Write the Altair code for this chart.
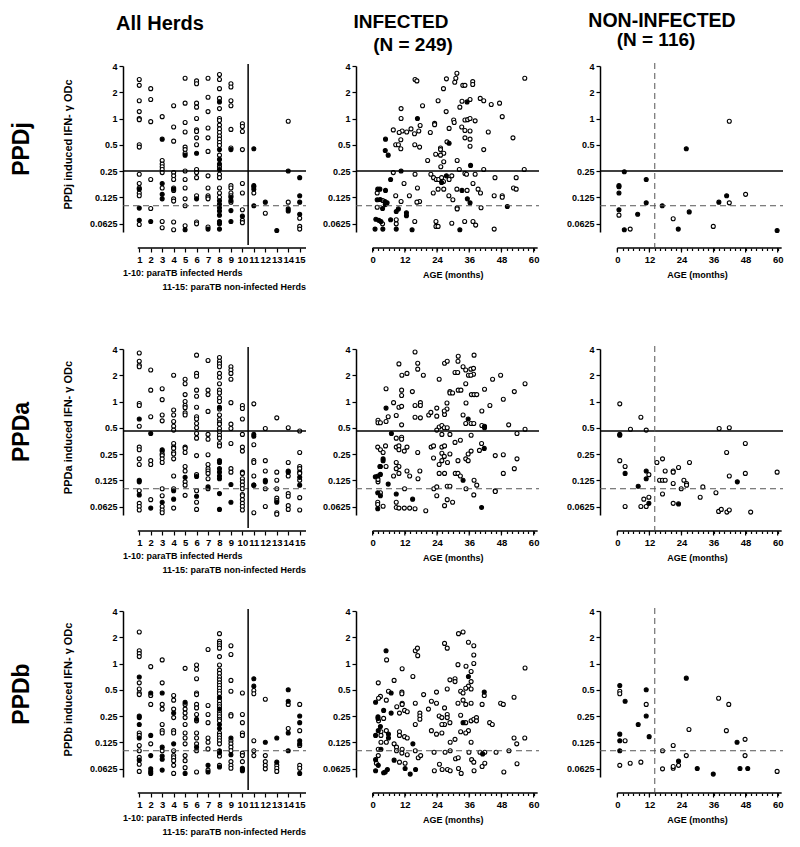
import altair as alt
import pandas as pd

FONT = "Liberation Sans"
W, H = 183, 166
GAP_COLS = [50, 61]
GAP_ROWS = [117, 96]
Y_DOMAIN = [0.05, 4]
Y_TICKS = [0.0625, 0.125, 0.25, 0.5, 1, 2, 4]
HERD_TICKS = list(range(1, 16))
HERD_DOMAIN = [-0.42, 15.55]
HERD_AXIS_LINE = [0.87, 15.55]
HERD_SPLIT = 10.5
AGE_TICKS = list(range(0, 61, 2))
AGE_MAJOR = [0, 12, 24, 36, 48, 60]
AGE_DOMAINS = [[-6.2, 62.0], [-6.5, 62.0]]
AGE_AXIS_LINE = [0, 61.5]
AGE_SPLIT = 14
ANTIGENS = ["PPDj", "PPDa", "PPDb"]
SOLID_CUT = [0.25, 0.46, None]
DASH_CUT = [0.1, 0.1, 0.1]

# ---------------- PPDj ----------------
PPDJ_HERD_OPEN = {
    1: [2.8, 2.4, 1.6, 1.2, 1.0, 0.97, 0.5, 0.47, 0.23, 0.18, 0.16, 0.14, 0.13, 0.061],
    2: [2.2, 1.65, 0.92, 0.2, 0.093],
    3: [1.05, 0.33, 0.3, 0.28, 0.26, 0.24, 0.16, 0.066, 0.056],
    4: [1.4, 0.8, 0.55, 0.24, 0.22, 0.2, 0.16, 0.15, 0.12, 0.113, 0.065, 0.053],
    5: [2.9, 1.5, 0.9, 0.7, 0.47, 0.44, 0.4, 0.25, 0.2, 0.16, 0.12, 0.1, 0.059],
    6: [2.7, 2.5, 1.5, 1.35, 1.0, 0.74, 0.71, 0.6, 0.5, 0.26, 0.24, 0.21, 0.13, 0.065, 0.062],
    7: [2.9, 1.75, 1.2, 0.78, 0.6, 0.42, 0.22, 0.16, 0.13, 0.125, 0.12, 0.057],
    8: [3.2, 2.8, 2.2, 1.7, 1.3, 1.0, 0.95, 0.84, 0.76, 0.69, 0.63, 0.58, 0.53, 0.49, 0.38,
        0.28, 0.23, 0.21, 0.16, 0.14, 0.125],
    9: [2.5, 2.3, 1.6, 1.4, 0.75, 0.46, 0.17, 0.16, 0.14, 0.13, 0.11],
    10: [0.87, 0.81, 0.71, 0.44, 0.18, 0.14, 0.09, 0.068, 0.064],
    11: [0.14],
    12: [0.082],
    14: [0.93, 0.11],
    15: [0.072, 0.058, 0.054],
}
PPDJ_HERD_FILL = {
    1: [0.155, 0.094, 0.068],
    2: [0.066],
    3: [0.58, 0.18, 0.135, 0.12],
    4: [0.155],
    5: [0.38, 0.053],
    6: [0.4, 0.12],
    7: [0.054],
    8: [1.55, 0.44, 0.34, 0.3, 0.26, 0.114, 0.104, 0.095, 0.087, 0.078, 0.066, 0.062, 0.054],
    9: [0.44, 0.125, 0.115, 0.088, 0.066],
    10: [0.076],
    11: [0.45, 0.17, 0.165, 0.155, 0.1],
    12: [0.11],
    13: [0.052],
    14: [0.25, 0.092, 0.087],
    15: [0.21, 0.13, 0.11, 0.08],
}
PPDJ_INF_OPEN = [
    (15.8, 2.8), (16.5, 2.7), (27.5, 2.85), (30.6, 2.6), (31.4, 3.3), (31, 2.9), (33.6, 2.4), (34.4, 2.4),
    (37.3, 2.65), (37.3, 2.45), (56.7, 2.9), (26.4, 2.2), (24.4, 1.6), (33.3, 1.58), (36.3, 1.65), (40.1, 1.7),
    (41.4, 1.6), (44.2, 1.45), (47.3, 1.5), (18.6, 1.4), (10.6, 1.3), (32.5, 1.35), (48.3, 1.05), (10.6, 1.0),
    (27.4, 1.2), (30.2, 0.96), (30.4, 0.9), (34.4, 0.96), (35.4, 0.97), (36.3, 1.0), (38.2, 0.94), (7.7, 0.74),
    (11, 0.72), (9.9, 0.69), (12.7, 0.7), (14.3, 0.76), (15.6, 0.67), (17.2, 0.72), (17.7, 0.83), (23.1, 0.88),
    (23.1, 0.85), (21.5, 0.69), (28.5, 0.77), (33.2, 0.8), (34.4, 0.73), (36.3, 0.72), (43.1, 0.7), (52.3, 0.6),
    (34.4, 0.6), (36.3, 0.58), (27.7, 0.54), (8.6, 0.5), (9.6, 0.5), (10.5, 0.57), (10.5, 0.45), (15.7, 0.5),
    (17.5, 0.47), (36.3, 0.48), (41.4, 0.44), (25.3, 0.46), (25.3, 0.44), (26.5, 0.4), (23.5, 0.39), (25.3, 0.38),
    (20.5, 0.33), (31.5, 0.33), (26.5, 0.32), (25.4, 0.28), (32.3, 0.26), (41.4, 0.26), (56.5, 0.26), (7.7, 0.24),
    (15.8, 0.23), (21.7, 0.23), (22.7, 0.21), (23.7, 0.2), (24.6, 0.2), (25.7, 0.21), (26.4, 0.19), (28.5, 0.2),
    (29.5, 0.22), (34.4, 0.235), (35, 0.23), (38.2, 0.23), (45.6, 0.21), (53.5, 0.21), (11.7, 0.18), (16.7, 0.16),
    (22.6, 0.14), (24.4, 0.155), (26.5, 0.155), (28.4, 0.13), (31.4, 0.155), (35.2, 0.15), (37.4, 0.18),
    (39.3, 0.155), (40.2, 0.14), (45.3, 0.13), (48.3, 0.13), (48.3, 0.125), (52.5, 0.16), (53.5, 0.155),
    (1.7, 0.14), (3.8, 0.115), (8.6, 0.13), (10.6, 0.112), (13.7, 0.13), (17.5, 0.112), (16.5, 0.11),
    (29.9, 0.117), (31.5, 0.095), (31.5, 0.092), (40.4, 0.095), (1.7, 0.096), (3.7, 0.062), (8.8, 0.069),
    (8.8, 0.062), (15.7, 0.066), (23.6, 0.066), (23.6, 0.058), (24.4, 0.058), (29.5, 0.063), (34.3, 0.066),
    (37.4, 0.066), (38.4, 0.06), (45.3, 0.054),
]
PPDJ_INF_FILL = [
    (35.2, 1.55), (16.7, 1.0), (28.5, 0.52), (4.8, 0.58), (4.7, 0.43), (5.8, 0.38), (36.5, 0.29), (10.6, 0.25),
    (27.5, 0.22), (6.7, 0.2), (25.7, 0.185), (33.3, 0.15), (1.9, 0.155), (2.7, 0.155), (4.8, 0.15), (1.7, 0.117),
    (2.8, 0.118), (4.6, 0.112), (5.4, 0.108), (4.7, 0.103), (35.3, 0.12), (36.3, 0.108), (50.2, 0.098),
    (3.7, 0.093), (8.8, 0.086), (9.6, 0.092), (12.6, 0.083), (12.6, 0.077), (1.2, 0.07), (2.3, 0.068),
    (3.1, 0.066), (6.7, 0.069), (0.9, 0.054), (3.8, 0.054), (8.8, 0.054), (14.7, 0.053), (32.5, 0.053),
]
PPDJ_NON_OPEN = [(41.9, 0.93), (48, 0.135), (41.9, 0.108), (0.6, 0.078), (20.9, 0.071), (35.9, 0.058), (4.8, 0.054)]
PPDJ_NON_FILL = [
    (25.8, 0.45), (2.6, 0.245), (10.8, 0.2), (0.6, 0.17), (0.6, 0.165), (0.6, 0.14), (40.9, 0.13), (38, 0.11),
    (10.8, 0.108), (16.8, 0.1), (0.6, 0.09), (26.9, 0.085), (7.6, 0.08), (2.6, 0.053), (22.8, 0.054), (59.8, 0.052),
]

# ---------------- PPDa ----------------
PPDA_HERD_OPEN = {
    1: [3.6, 2.9, 2.6, 2.5, 0.95, 0.9, 0.52, 0.3, 0.28, 0.22, 0.19, 0.095, 0.068, 0.0625, 0.057],
    2: [2.3, 1.35, 0.67, 0.21, 0.19, 0.075],
    3: [1.4, 1.05, 0.7, 0.6, 0.27, 0.25, 0.24, 0.22, 0.2, 0.1, 0.083, 0.0625, 0.057, 0.053],
    4: [2.0, 0.8, 0.7, 0.59, 0.52, 0.47, 0.33, 0.3, 0.29, 0.26, 0.25, 0.22, 0.14, 0.1, 0.06],
    5: [1.8, 1.6, 1.2, 1.0, 0.9, 0.85, 0.74, 0.7, 0.3, 0.29, 0.26, 0.18, 0.16, 0.12, 0.11, 0.084],
    6: [3.4, 2.1, 1.95, 1.35, 1.15, 0.86, 0.67, 0.63, 0.56, 0.5, 0.43, 0.38, 0.24, 0.145, 0.095, 0.07, 0.058],
    7: [2.95, 1.35, 1.2, 0.77, 0.42, 0.37, 0.245, 0.19, 0.17, 0.16, 0.15, 0.13, 0.1],
    8: [3.2, 2.9, 2.7, 2.5, 2.1, 1.9, 1.6, 1.35, 1.25, 1.1, 1.0, 0.82, 0.7, 0.62, 0.57, 0.55, 0.49, 0.45,
        0.41, 0.38, 0.33, 0.31],
    9: [2.5, 2.3, 2.1, 1.8, 0.97, 0.55, 0.49, 0.33, 0.17, 0.155],
    10: [0.9, 0.83, 0.63, 0.42, 0.3, 0.27, 0.155, 0.15, 0.13, 0.12, 0.11, 0.1, 0.086, 0.083, 0.075, 0.068,
         0.0625, 0.057],
    11: [0.94, 0.32, 0.21, 0.2, 0.14, 0.11, 0.053],
    12: [0.49, 0.21, 0.16, 0.1, 0.0625],
    13: [0.65, 0.155, 0.125, 0.1, 0.078, 0.073, 0.053, 0.051],
    14: [0.5, 0.2, 0.14, 0.088, 0.082, 0.064, 0.058],
    15: [0.46, 0.26, 0.18, 0.17, 0.155, 0.15, 0.125, 0.079, 0.057],
}
PPDA_HERD_FILL = {
    1: [0.63, 0.125, 0.12, 0.085],
    2: [0.43, 0.06],
    3: [0.28, 0.07],
    4: [0.095, 0.076],
    5: [0.135],
    6: [0.138, 0.082],
    7: [0.105],
    8: [0.86, 0.21, 0.2, 0.17, 0.155, 0.14, 0.13, 0.088, 0.058],
    9: [0.112, 0.07],
    11: [0.42, 0.4, 0.11],
    12: [0.125, 0.12],
    13: [0.07],
    14: [0.16, 0.155],
    15: [0.135, 0.11],
}
PPDA_INF_OPEN = [
    (15.8, 3.7), (31.9, 3.3), (37.8, 3.4), (9.8, 2.7), (16.8, 2.75), (16.8, 2.35), (26.8, 2.75), (27.8, 2.9),
    (31.8, 2.9), (33.7, 2.5), (34.7, 2.3), (30.7, 2.15), (31.7, 2.15), (36.6, 2.35), (37.6, 2.4), (37.6, 2.05),
    (35.7, 2.0), (36.6, 2.0), (10.9, 2.0), (12.8, 2.1), (18.9, 2.0), (24.8, 1.8), (44.7, 1.8), (47.7, 2.0),
    (34.7, 1.6), (56.8, 1.6), (5.0, 1.4), (10.8, 1.35), (10.8, 1.17), (14.8, 1.3), (28.8, 1.3), (28.8, 1.25),
    (29.8, 1.25), (31.9, 1.35), (32.9, 1.35), (36.8, 1.2), (37.8, 1.2), (38.8, 1.2), (41.7, 1.38), (52.8, 1.3),
    (48.7, 1.06), (43.7, 0.9), (7.8, 0.97), (9.8, 0.86), (10.8, 0.88), (15.8, 0.9), (17.8, 0.97), (17.8, 0.9),
    (23.9, 0.84), (27.7, 0.82), (27.7, 0.96), (34.8, 0.96), (5.8, 0.67), (8.8, 0.69), (2.0, 0.61), (2.0, 0.57),
    (2.9, 0.57), (5.0, 0.59), (10.8, 0.54), (15.8, 0.66), (17.8, 0.65), (20.9, 0.7), (21.7, 0.75), (23.9, 0.68),
    (26.8, 0.71), (26.7, 0.78), (33.7, 0.7), (34.7, 0.56), (36.7, 0.56), (37.7, 0.56), (40.7, 0.78),
    (40.7, 0.53), (50.7, 0.54), (24.8, 0.51), (25.8, 0.53), (26.7, 0.5), (27.8, 0.5), (23.9, 0.47), (8.8, 0.38),
    (10.8, 0.39), (10.8, 0.37), (25.8, 0.42), (28.8, 0.42), (36.7, 0.41), (53.8, 0.43), (56.8, 0.48),
    (40.6, 0.33), (39.8, 0.275), (30.7, 0.34), (32.7, 0.36), (25.8, 0.3), (26.8, 0.31), (21.8, 0.3), (22.7, 0.31),
    (8.8, 0.3), (9.8, 0.31), (9.8, 0.28), (11.8, 0.27), (12.8, 0.3), (16.8, 0.26), (1.9, 0.3), (2.9, 0.28),
    (3.9, 0.26), (4.8, 0.31), (28.8, 0.25), (25.8, 0.255), (26.7, 0.235), (22.7, 0.225), (35.6, 0.25),
    (36.7, 0.27), (45.7, 0.24), (48.7, 0.245), (53.8, 0.22), (2.7, 0.18), (5.0, 0.18), (8.8, 0.2), (9.8, 0.18),
    (8.8, 0.17), (13.8, 0.14), (17.6, 0.16), (16.9, 0.13), (24.8, 0.19), (25.8, 0.21), (27.9, 0.2), (31.8, 0.21),
    (34.7, 0.22), (35.6, 0.21), (24.8, 0.15), (26.8, 0.15), (30.8, 0.15), (31.8, 0.15), (32.7, 0.14),
    (48.7, 0.15), (52.8, 0.17), (37.8, 0.125), (38.8, 0.11), (2.0, 0.12), (2.0, 0.128), (7.8, 0.14), (9.8, 0.15),
    (12.8, 0.16), (11.9, 0.1), (22.8, 0.1), (23.9, 0.105), (27.8, 0.107), (28.8, 0.107), (34.8, 0.1),
    (45.7, 0.095), (45.7, 0.093), (37.7, 0.085), (23.9, 0.083), (2.9, 0.09), (27.8, 0.075), (29.8, 0.07),
    (26.8, 0.064), (1.9, 0.07), (1.9, 0.066), (3.9, 0.063), (8.8, 0.07), (8.8, 0.061), (9.8, 0.06), (11.8, 0.06),
    (13.8, 0.06), (15.8, 0.059), (19.8, 0.056),
]
PPDA_INF_FILL = [
    (5.0, 0.84), (35.6, 0.63), (41.7, 0.52), (41.7, 0.5), (7.0, 0.43), (41.6, 0.29), (3.9, 0.22), (3.9, 0.21),
    (33.7, 0.125), (2.9, 0.18), (1.0, 0.137), (2.0, 0.14), (2.9, 0.146), (5.8, 0.113), (1.9, 0.09), (2.9, 0.083),
    (8.8, 0.087), (14.9, 0.076), (1.9, 0.059), (40.6, 0.061),
]
PPDA_NON_OPEN = [
    (0.9, 0.94), (8.8, 0.66), (4.9, 0.48), (10.8, 0.47), (38.1, 0.49), (41.9, 0.5), (47.9, 0.33), (40.9, 0.26),
    (0.9, 0.21), (2.9, 0.18), (11.8, 0.145), (14.8, 0.2), (16.9, 0.22), (17.9, 0.16), (15.8, 0.125),
    (16.9, 0.125), (17.9, 0.125), (20.9, 0.16), (20.9, 0.155), (22.9, 0.175), (27, 0.2), (20.9, 0.115),
    (24.9, 0.125), (25.9, 0.115), (25.9, 0.11), (23.9, 0.1), (32, 0.105), (16.9, 0.087), (9.9, 0.076),
    (11.8, 0.08), (2.9, 0.0625), (8.8, 0.0625), (10.8, 0.0625), (20.9, 0.068), (31, 0.08), (36.9, 0.09),
    (41.9, 0.14), (47.9, 0.15), (59.8, 0.155), (37.9, 0.055), (38.9, 0.058), (41, 0.054), (41.9, 0.057),
    (49.9, 0.054),
]
PPDA_NON_FILL = [
    (0.9, 0.42), (0.9, 0.41), (2.9, 0.15), (10.8, 0.16), (10.8, 0.13), (7.8, 0.107), (11.8, 0.068),
    (22.9, 0.067), (44.9, 0.12),
]

# ---------------- PPDb ----------------
PPDB_HERD_OPEN = {
    1: [2.3, 1.4, 1.3, 1.2, 0.6, 0.51, 0.46, 0.44, 0.16, 0.15, 0.115, 0.1, 0.084, 0.07, 0.058],
    2: [0.92, 0.43, 0.34, 0.12],
    3: [1.1, 0.6, 0.34, 0.3, 0.2, 0.17, 0.16, 0.1],
    4: [0.43, 0.38, 0.3, 0.24, 0.17, 0.16, 0.1, 0.088, 0.083, 0.077, 0.068, 0.055],
    5: [0.88, 0.34, 0.3, 0.27, 0.24, 0.2, 0.16, 0.14, 0.12, 0.088, 0.077, 0.064],
    6: [0.96, 0.86, 0.67, 0.46, 0.44, 0.34, 0.31, 0.26, 0.22, 0.16, 0.14, 0.12, 0.1, 0.057],
    7: [1.45, 0.33, 0.26, 0.21, 0.14, 0.125, 0.105, 0.06],
    8: [2.2, 1.8, 1.7, 1.6, 1.5, 1.2, 0.96, 0.84, 0.77, 0.7, 0.65, 0.6, 0.56, 0.52, 0.48, 0.45, 0.4, 0.37,
        0.34, 0.32, 0.28, 0.26, 0.245, 0.23, 0.22, 0.16, 0.15, 0.14, 0.13, 0.12, 0.087, 0.068],
    9: [1.6, 1.27, 0.64, 0.48, 0.26, 0.25, 0.13, 0.12, 0.11, 0.1, 0.075, 0.068, 0.063],
    10: [0.46, 0.26, 0.21, 0.16, 0.15, 0.094, 0.088, 0.075],
    11: [0.49, 0.45, 0.13, 0.1, 0.088],
    12: [0.39, 0.088, 0.075, 0.068, 0.062],
    13: [0.068, 0.063, 0.058],
    14: [0.34, 0.18],
    15: [0.34, 0.17, 0.115, 0.068, 0.063],
}
PPDB_HERD_FILL = {
    1: [0.7, 0.25, 0.24, 0.2, 0.14, 0.078],
    2: [0.46, 0.15, 0.088, 0.062, 0.058, 0.055],
    3: [0.46, 0.11, 0.087, 0.08, 0.06],
    4: [0.27, 0.12],
    5: [0.36, 0.055],
    6: [0.23, 0.11],
    7: [0.068, 0.057],
    8: [0.41, 0.3, 0.2, 0.18, 0.1, 0.095, 0.065],
    9: [0.14, 0.09],
    10: [0.063, 0.061, 0.059],
    11: [0.67, 0.55],
    12: [0.125],
    13: [0.14, 0.074],
    14: [0.5, 0.37, 0.16, 0.1],
    15: [0.25, 0.21, 0.13, 0.12, 0.055],
}
PPDB_INF_OPEN = [
    (32, 2.2), (33.7, 2.3), (26.8, 1.7), (27.8, 1.5), (35.7, 1.75), (37.7, 1.6), (37.7, 1.25), (15.9, 1.4),
    (16.7, 1.5), (16.8, 1.23), (5.2, 1.1), (11, 0.87), (56.8, 0.89), (31.8, 0.97), (34.8, 0.93), (37.7, 1.0),
    (36.7, 0.81), (15, 0.71), (8, 0.64), (2.1, 0.6), (30.7, 0.67), (30.7, 0.62), (28.8, 0.65), (36.7, 0.62),
    (35.7, 0.55), (34.7, 0.52), (27.8, 0.51), (32.8, 0.48), (33.7, 0.46), (36.7, 0.51), (5.9, 0.48),
    (10.9, 0.47), (10.9, 0.45), (23.8, 0.47), (41.6, 0.43), (52.7, 0.41), (19, 0.44), (2.9, 0.42), (2.2, 0.4),
    (5.1, 0.38), (21.9, 0.37), (23.8, 0.35), (31.8, 0.35), (33.7, 0.38), (34.7, 0.34), (36.7, 0.35),
    (40.8, 0.34), (47.7, 0.35), (48.7, 0.34), (15.9, 0.35), (11, 0.35), (11, 0.34), (9, 0.32), (10, 0.27),
    (11.9, 0.29), (12.9, 0.28), (20.8, 0.3), (26.8, 0.31), (2.2, 0.22), (4.1, 0.235), (17.6, 0.27),
    (17.6, 0.25), (17.6, 0.23), (24.8, 0.25), (25.8, 0.24), (27.8, 0.26), (27.8, 0.24), (26.8, 0.2),
    (25.8, 0.2), (28.8, 0.21), (32.8, 0.255), (34.7, 0.21), (36.7, 0.22), (37.7, 0.23), (38.7, 0.24),
    (38.7, 0.22), (43.6, 0.21), (44.6, 0.2), (15.9, 0.2), (21.9, 0.17), (23.8, 0.155), (25.8, 0.16),
    (30.7, 0.135), (32.8, 0.165), (35.7, 0.17), (34.7, 0.16), (28.9, 0.125), (36.7, 0.125), (52.7, 0.14),
    (53.7, 0.12), (56.7, 0.14), (3.1, 0.165), (3.1, 0.15), (5.1, 0.17), (5.1, 0.125), (3.1, 0.125), (8, 0.12),
    (10, 0.165), (10, 0.15), (11.9, 0.145), (12.9, 0.14), (8.9, 0.11), (8.9, 0.1), (11, 0.104), (15.9, 0.1),
    (2.1, 0.104), (2.1, 0.088), (10.9, 0.094), (12.9, 0.09), (17, 0.083), (17.9, 0.088), (22.9, 0.096),
    (27, 0.096), (28.9, 0.1), (30.9, 0.081), (31.9, 0.083), (35.9, 0.096), (36.9, 0.079), (37.7, 0.074),
    (40, 0.096), (41.8, 0.096), (46, 0.096), (50.8, 0.1), (53.8, 0.071), (40.8, 0.066), (41.8, 0.072),
    (1.4, 0.072), (10, 0.074), (12.1, 0.072), (24.9, 0.07), (23, 0.059), (25.9, 0.061), (27.9, 0.061),
    (28.9, 0.059), (32, 0.0625), (33, 0.055), (37.8, 0.059), (48.9, 0.057),
]
PPDB_INF_FILL = [
    (5.0, 1.4), (35.7, 0.71), (6.9, 0.46), (41.6, 0.47), (1.1, 0.36), (4.1, 0.29), (6.9, 0.27), (2.0, 0.245),
    (2.0, 0.235), (33.7, 0.21), (2.9, 0.19), (2.1, 0.17), (1.1, 0.15), (5.9, 0.155), (5.9, 0.14), (15, 0.12),
    (3.1, 0.104), (41, 0.092), (1.1, 0.079), (2.1, 0.068), (8, 0.078), (12.1, 0.0625), (1.1, 0.059),
    (4.1, 0.056), (4.7, 0.057), (5.5, 0.061), (14, 0.054), (16, 0.061),
]
PPDB_NON_OPEN = [
    (0.9, 0.48), (0.9, 0.45), (10.8, 0.34), (2.9, 0.13), (0.9, 0.068), (4.8, 0.072), (8.8, 0.074), (16.9, 0.1),
    (20.9, 0.115), (16.9, 0.062), (20.9, 0.063), (20.9, 0.066), (22.9, 0.068), (25.8, 0.088), (26.8, 0.175),
    (37.9, 0.4), (41.7, 0.34), (40.8, 0.17), (47.8, 0.135), (47.8, 0.088), (59.8, 0.058),
]
PPDB_NON_FILL = [
    (25.8, 0.68), (0.9, 0.56), (10.8, 0.5), (2.9, 0.37), (10.8, 0.25), (7.8, 0.2), (0.9, 0.155), (11.9, 0.145),
    (0.9, 0.13), (0.9, 0.1), (22.9, 0.076), (29.9, 0.0625), (44.8, 0.125), (35.9, 0.054), (45.9, 0.0625),
    (48.8, 0.0625),
]

HERD_DATA = [(PPDJ_HERD_OPEN, PPDJ_HERD_FILL), (PPDA_HERD_OPEN, PPDA_HERD_FILL), (PPDB_HERD_OPEN, PPDB_HERD_FILL)]
INF_DATA = [(PPDJ_INF_OPEN, PPDJ_INF_FILL), (PPDA_INF_OPEN, PPDA_INF_FILL), (PPDB_INF_OPEN, PPDB_INF_FILL)]
NON_DATA = [(PPDJ_NON_OPEN, PPDJ_NON_FILL), (PPDA_NON_OPEN, PPDA_NON_FILL), (PPDB_NON_OPEN, PPDB_NON_FILL)]


def herd_frame(open_d, fill_d):
    rows = [(h, v, "o") for h, vs in open_d.items() for v in vs]
    rows += [(h, v, "f") for h, vs in fill_d.items() for v in vs]
    return pd.DataFrame(rows, columns=["x", "y", "f"])


def age_frame(open_l, fill_l):
    rows = [(a, v, "o") for a, v in open_l] + [(a, v, "f") for a, v in fill_l]
    return pd.DataFrame(rows, columns=["x", "y", "f"])


ONE = pd.DataFrame({"z": [0]})


def txt(text, x, y, size, weight="normal", align="center", angle=0, baseline="alphabetic"):
    return alt.Chart(pd.DataFrame({"t": [text]})).mark_text(
        font=FONT, fontSize=size, fontWeight=weight, align=align, baseline=baseline,
        angle=angle, color="black"
    ).encode(text="t:N", x=x, y=y)


def panel(row, col):
    herd = col == 0
    if herd:
        df = herd_frame(*HERD_DATA[row])
        xdom = HERD_DOMAIN
    else:
        df = age_frame(*(INF_DATA[row] if col == 1 else NON_DATA[row]))
        xdom = AGE_DOMAINS[col - 1]
    xscale = alt.Scale(domain=xdom, nice=False, zero=False)
    yscale = alt.Scale(type="log", base=2, domain=Y_DOMAIN, nice=False)
    common_x = dict(title=None, offset=16, domain=False, grid=False, tickWidth=1.2,
                    tickColor="black", labelFontSize=9.5, labelFontWeight="bold",
                    labelFlush=False, labelOverlap=False, labelFont=FONT, labelColor="black")
    if herd:
        xaxis = alt.Axis(values=HERD_TICKS, tickSize=4, labelPadding=2, **common_x)
    else:
        xaxis = alt.Axis(values=AGE_TICKS, tickSize=2.5, labelPadding=3.5,
                         labelExpr="datum.value % 12 === 0 ? datum.label : ''", **common_x)
    ykw = dict(values=Y_TICKS, format="~g", grid=False, domainColor="black", domainWidth=1.5,
               tickSize=4, tickWidth=1.2, tickColor="black", labelFontSize=9, labelFontWeight="bold",
               labelFont=FONT, labelColor="black", labelPadding=2, labelFlush=False, labelOverlap=False)
    if herd:
        yaxis = alt.Axis(title=f"{ANTIGENS[row]} induced IFN- γ ODc", titleX=-55, titleY=78,
                         titleAngle=270, titleAlign="center", titleBaseline="middle",
                         titleFontSize=11, titleFontWeight="bold", titleFont=FONT,
                         titleColor="black", **ykw)
    else:
        yaxis = alt.Axis(title=None, **ykw)

    def xd(v):
        return alt.XDatum(v, axis=xaxis, scale=xscale)

    def yd(v):
        return alt.YDatum(v, axis=yaxis, scale=yscale)

    pts = alt.Chart(df).mark_circle(size=16, stroke="black", strokeWidth=1.1, opacity=1).encode(
        x=alt.X("x:Q", scale=xscale, axis=xaxis),
        y=alt.Y("y:Q", scale=yscale, axis=yaxis),
        fill=alt.Fill("f:N", scale=alt.Scale(domain=["o", "f"], range=["white", "black"]), legend=None),
    )
    layers = []
    if SOLID_CUT[row] is not None:
        layers.append(alt.Chart(ONE).mark_rule(color="black", strokeWidth=1.5).encode(
            y=yd(SOLID_CUT[row]), x=alt.value(0), x2=alt.value(W)))
    layers.append(alt.Chart(ONE).mark_rule(color="#555555", strokeWidth=1, strokeDash=[6, 4]).encode(
        y=yd(DASH_CUT[row]), x=alt.value(0), x2=alt.value(W)))
    if herd:
        layers.append(alt.Chart(ONE).mark_rule(color="black", strokeWidth=1.5).encode(
            x=xd(HERD_SPLIT), y=alt.value(-2), y2=alt.value(H + 13)))
        lo, hi = HERD_AXIS_LINE
    else:
        lo, hi = AGE_AXIS_LINE
        if col == 2:
            layers.append(alt.Chart(ONE).mark_rule(color="#555555", strokeWidth=1, strokeDash=[6, 4]).encode(
                x=xd(AGE_SPLIT), y=alt.value(-3), y2=alt.value(H + 15)))
        # longer major ticks every 12 months
        layers.append(alt.Chart(pd.DataFrame({"x": AGE_MAJOR})).mark_rule(color="black", strokeWidth=1.2).encode(
            x=alt.X("x:Q", axis=xaxis, scale=xscale), y=alt.value(H + 16), y2=alt.value(H + 20.5)))
    layers.append(alt.Chart(ONE).mark_rule(color="black", strokeWidth=1.5).encode(
        x=xd(lo), x2=alt.X2Datum(hi), y=alt.value(H + 16)))
    layers.insert(0, pts)

    # text
    if herd:
        layers.append(txt("1-10: paraTB infected Herds", alt.value(0), alt.value(H + 44), 9, "bold", align="left"))
        layers.append(txt("11-15: paraTB non-infected Herds", alt.value(W), alt.value(H + 58), 9, "bold", align="right"))
        layers.append(txt(ANTIGENS[row], alt.value(-101), alt.value(H / 2), 23, "bold", angle=270, baseline="middle"))
    else:
        layers.append(txt("AGE (months)", xd(30), alt.value(H + 46), 9, "bold"))
    if row == 0:
        if col == 0:
            layers.append(txt("All Herds", alt.value(37), alt.value(-36), 20, "bold"))
            layers.append(alt.Chart(ONE).mark_rule(opacity=0, strokeWidth=1).encode(
                x=alt.value(-115), x2=alt.value(-114), y=alt.value(-58), y2=alt.value(-57)))
        elif col == 1:
            layers.append(txt("INFECTED", alt.value(45), alt.value(-38), 19, "bold"))
            layers.append(txt("(N = 249)", alt.value(57), alt.value(-15), 19, "bold"))
        else:
            layers.append(txt("NON-INFECTED", alt.value(62), alt.value(-39), 19.5, "bold"))
            layers.append(txt("(N = 116)", alt.value(56), alt.value(-20), 19, "bold"))

    return alt.layer(*layers).properties(width=W, height=H)


def spacer(w, h):
    return alt.Chart(ONE).mark_point(opacity=0).encode(x=alt.value(0), y=alt.value(0)).properties(width=w, height=h)


cells = []
for r in range(3):
    cells += [panel(r, 0), spacer(GAP_COLS[0], 1), panel(r, 1), spacer(GAP_COLS[1], 1), panel(r, 2)]
    if r < 2:
        cells += [spacer(1, GAP_ROWS[r]) for _ in range(5)]

chart = alt.concat(*cells, columns=5, spacing=0, bounds="flush", align="each").properties(
    padding=0
).configure_view(stroke=None).configure_axis(labelOverlap=False)

chart.save("out.html", embed_options={"renderer": "svg", "actions": False})
